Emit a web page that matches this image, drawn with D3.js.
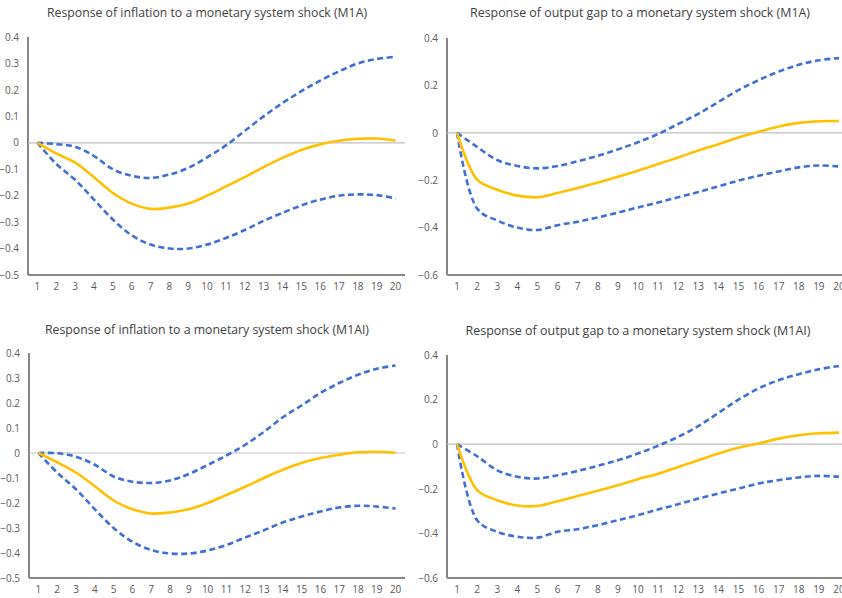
<!DOCTYPE html>
<html>
<head>
<meta charset="utf-8">
<script src="https://cdn.jsdelivr.net/npm/d3@7"></script>
<style>
  html, body { margin: 0; padding: 0; background: #ffffff; }
  svg { display: block; }
</style>
</head>
<body>
<svg id="chart" width="842" height="598"></svg>
<script>
// Horizons of the impulse responses
const periods = d3.range(1, 21);

// Tick values for the two kinds of vertical axes
const inflationTicks = [0.4, 0.3, 0.2, 0.1, 0, -0.1, -0.2, -0.3, -0.4, -0.5];
const outputGapTicks = [0.4, 0.2, 0, -0.2, -0.4, -0.6];

// Panel titles
const titles = [
  "Response of inflation to a monetary system shock (M1A)",
  "Response of output gap to a monetary system shock (M1A)",
  "Response of inflation to a monetary system shock (M1AI)",
  "Response of output gap to a monetary system shock (M1AI)"
];

// Inflation, model M1A: point response and confidence band
const inflM1A = [0, -0.04, -0.075, -0.13, -0.19, -0.23, -0.25, -0.245, -0.23, -0.2,
  -0.165, -0.13, -0.092, -0.057, -0.027, -0.006, 0.008, 0.015, 0.016, 0.008];
const inflM1AUpper = [0, -0.005, -0.015, -0.05, -0.1, -0.125, -0.133, -0.12, -0.095, -0.055,
  -0.01, 0.045, 0.1, 0.15, 0.195, 0.235, 0.27, 0.3, 0.317, 0.325];
const inflM1ALower = [0, -0.08, -0.14, -0.215, -0.29, -0.35, -0.385, -0.4, -0.4, -0.385,
  -0.36, -0.33, -0.295, -0.265, -0.237, -0.215, -0.2, -0.195, -0.198, -0.21];

// Output gap, model M1A
const gapM1A = [0, -0.198, -0.24, -0.265, -0.272, -0.254, -0.233, -0.21, -0.185, -0.16,
  -0.132, -0.104, -0.075, -0.048, -0.02, 0.004, 0.027, 0.042, 0.049, 0.05];
const gapM1AUpper = [0, -0.06, -0.115, -0.14, -0.15, -0.14, -0.12, -0.097, -0.07, -0.04,
  -0.005, 0.037, 0.08, 0.13, 0.18, 0.222, 0.258, 0.287, 0.306, 0.315];
const gapM1ALower = [0, -0.32, -0.37, -0.4, -0.41, -0.39, -0.375, -0.357, -0.337, -0.315,
  -0.294, -0.272, -0.25, -0.226, -0.202, -0.181, -0.163, -0.146, -0.138, -0.142];

// Inflation, model M1AI
const inflM1AI = [0, -0.037, -0.078, -0.133, -0.19, -0.225, -0.242, -0.238, -0.225, -0.2,
  -0.168, -0.135, -0.1, -0.067, -0.04, -0.02, -0.007, 0.003, 0.005, 0.001];
const inflM1AIUpper = [0, -0.001, -0.015, -0.047, -0.094, -0.115, -0.12, -0.11, -0.084, -0.048,
  -0.01, 0.033, 0.085, 0.143, 0.19, 0.24, 0.28, 0.313, 0.337, 0.35];
const inflM1AILower = [0, -0.078, -0.145, -0.225, -0.3, -0.355, -0.388, -0.402, -0.402, -0.39,
  -0.368, -0.338, -0.309, -0.278, -0.254, -0.234, -0.218, -0.211, -0.214, -0.222];

// Output gap, model M1AI
const gapM1AI = [0, -0.206, -0.251, -0.275, -0.277, -0.256, -0.232, -0.209, -0.184, -0.157,
  -0.132, -0.102, -0.072, -0.042, -0.016, 0.003, 0.025, 0.04, 0.049, 0.052];
const gapM1AIUpper = [0, -0.054, -0.117, -0.146, -0.154, -0.139, -0.12, -0.097, -0.072, -0.042,
  -0.007, 0.033, 0.081, 0.14, 0.2, 0.25, 0.287, 0.314, 0.336, 0.351];
const gapM1AILower = [0, -0.341, -0.393, -0.415, -0.419, -0.393, -0.381, -0.363, -0.341, -0.318,
  -0.293, -0.269, -0.244, -0.221, -0.199, -0.176, -0.161, -0.149, -0.142, -0.146];

const COLORS = { irf: "#FFC000", band: "#3F6FD4", axis: "#868686", zero: "#BFBFBF", text: "#595959", title: "#404040" };
const FONT = "'Open Sans', 'Liberation Sans', sans-serif";

const svg = d3.select("#chart");

// Layout of each panel: plot rectangle, title position, series
const panels = [
  { left: 28, right: 405, top: 37, bottom: 275, titleX: 207, titleY: 17, titleW: 320,
    ticks: inflationTicks, title: titles[0], irf: inflM1A, upper: inflM1AUpper, lower: inflM1ALower },
  { left: 447, right: 849, top: 38, bottom: 275, titleX: 640, titleY: 17, titleW: 340,
    ticks: outputGapTicks, title: titles[1], irf: gapM1A, upper: gapM1AUpper, lower: gapM1ALower },
  { left: 29, right: 405, top: 353, bottom: 578, titleX: 207, titleY: 334, titleW: 324,
    ticks: inflationTicks, title: titles[2], irf: inflM1AI, upper: inflM1AIUpper, lower: inflM1AILower },
  { left: 447, right: 849, top: 355, bottom: 578, titleX: 638, titleY: 335, titleW: 345,
    ticks: outputGapTicks, title: titles[3], irf: gapM1AI, upper: gapM1AIUpper, lower: gapM1AILower }
];

panels.forEach(p => {
  const g = svg.append("g");

  const x = d3.scaleBand().domain(periods).range([p.left, p.right]);
  const y = d3.scaleLinear().domain([d3.min(p.ticks), d3.max(p.ticks)]).range([p.bottom, p.top]);
  const cx = d => x(d) + x.bandwidth() / 2;

  // Title
  g.append("text")
    .attr("x", p.titleX).attr("y", p.titleY)
    .attr("text-anchor", "middle")
    .attr("font-family", FONT).attr("font-size", 13.5)
    .attr("fill", COLORS.title)
    .attr("textLength", p.titleW).attr("lengthAdjust", "spacingAndGlyphs")
    .text(p.title);

  // Vertical axis: labels only, plus its line
  const yAxis = d3.axisLeft(y).tickValues(p.ticks).tickSize(0).tickPadding(9)
    .tickFormat(d => d === 0 ? "0" : d3.format(".1f")(d));
  const ya = g.append("g").attr("transform", `translate(${p.left},0)`).call(yAxis);
  ya.select(".domain").remove();
  ya.selectAll("text").attr("font-family", FONT).attr("font-size", 10).attr("fill", COLORS.text);
  g.append("line")
    .attr("x1", p.left).attr("x2", p.left).attr("y1", p.top).attr("y2", p.bottom)
    .attr("stroke", COLORS.axis).attr("stroke-width", 2);

  // Horizontal axis at the bottom with period labels
  const xAxis = d3.axisBottom(x).tickSize(0).tickPadding(8);
  const xa = g.append("g").attr("transform", `translate(0,${p.bottom})`).call(xAxis);
  xa.select(".domain").remove();
  xa.selectAll("text").attr("font-family", FONT).attr("font-size", 10).attr("fill", COLORS.text);
  g.append("line")
    .attr("x1", p.left).attr("x2", p.right).attr("y1", p.bottom).attr("y2", p.bottom)
    .attr("stroke", COLORS.axis).attr("stroke-width", 2);

  // Zero reference line
  g.append("line")
    .attr("x1", p.left).attr("x2", p.right).attr("y1", y(0)).attr("y2", y(0))
    .attr("stroke", COLORS.zero).attr("stroke-width", 1.2);

  const line = d3.line()
    .x((d, i) => cx(periods[i]))
    .y(d => y(d))
    .curve(d3.curveCatmullRom.alpha(0.5));

  // Confidence bounds (dashed) and point response (solid)
  [p.upper, p.lower].forEach(series => {
    g.append("path").datum(series)
      .attr("d", line)
      .attr("fill", "none")
      .attr("stroke", COLORS.band)
      .attr("stroke-width", 2.6)
      .attr("stroke-dasharray", "6,3.5");
  });
  g.append("path").datum(p.irf)
    .attr("d", line)
    .attr("fill", "none")
    .attr("stroke", COLORS.irf)
    .attr("stroke-width", 2.6)
    .attr("stroke-linejoin", "round");
});
</script>
</body>
</html>
